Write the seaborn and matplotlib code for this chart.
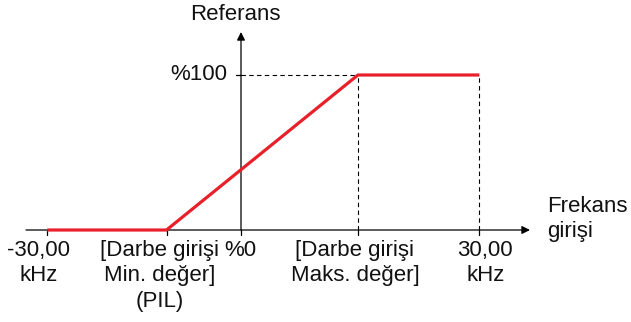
import matplotlib
matplotlib.use("Agg")
import matplotlib.pyplot as plt
import seaborn as sns
import pandas as pd

sns.set_theme(style="white")
plt.rcParams["font.family"] = ["Liberation Sans", "DejaVu Sans"]

# Reference curve (frequency input -> reference %)
curve_x = [-26.0, -10.0, 15.7, 32.0]
curve_y = [0, 0, 100, 100]

tick_x = [-26.0, -10.0, 0.0, 15.7, 32.0]
tick_labels = ["-30,00\nkHz", "[Darbe girişi\nMin. değer]\n(PIL)", "%0",
               "[Darbe girişi\nMaks. değer]", "30,00\nkHz"]
y_label_100 = "%100"
y_title = "Referans"
x_title = "Frekans\ngirişi"

W, H = 631, 322
fig = plt.figure(figsize=(W / 100, H / 100), dpi=100)
ax = fig.add_axes([0, 0, 1, 1])
kx, ky = 7.45, 1.55          # px per data unit
ox, oy = 241, 230            # origin in pixels
ax.set_xlim(-ox / kx, (W - ox) / kx)
ax.set_ylim(-(H - oy) / ky, oy / ky)
ax.axis("off")

df = pd.DataFrame({"x": curve_x, "y": curve_y})
sns.lineplot(data=df, x="x", y="y", ax=ax, color="#e8202a", lw=2.3,
             solid_capstyle="butt", zorder=5, legend=False)

# axes with arrows
ax.annotate("", xy=(530 / kx - ox / kx, 0), xytext=(26 / kx - ox / kx, 0),
            arrowprops=dict(arrowstyle="-|>", color="black", lw=0.9,
                            mutation_scale=12, shrinkA=0, shrinkB=0))
ax.annotate("", xy=(0, (oy - 32) / ky), xytext=(0, 0),
            arrowprops=dict(arrowstyle="-|>", color="black", lw=0.9,
                            mutation_scale=12, shrinkA=0, shrinkB=0))

# ticks
tick_len = 5 / ky
for x in tick_x:
    ax.plot([x, x], [0, -tick_len], color="black", lw=0.9)
ax.plot([-5 / kx, 0], [100, 100], color="black", lw=0.9)

# dashed guides
dash = dict(color="black", lw=0.8, ls=(0, (4, 3)))
ax.plot([0, curve_x[2]], [100, 100], **dash)
ax.plot([curve_x[2], curve_x[2]], [0, 100], **dash)
ax.plot([curve_x[3], curve_x[3]], [0, 100], **dash)

fs = 16
txt = "#111111"
label_shift_px = [-9, -7, -1, -3, 6]   # nudge labels clear of each other
for x, lab, dx in zip(tick_x, tick_labels, label_shift_px):
    ax.text(x + dx / kx, -10 / ky, lab, ha="center", va="top",
            multialignment="center", fontsize=fs, linespacing=1.27, color=txt)
ax.text(-14 / kx, 100, y_label_100, ha="right", va="center", fontsize=fs,
        color=txt)
ax.text(-6 / kx, (oy - 15) / ky, y_title, ha="center", va="center",
        fontsize=fs, color=txt)
ax.text((547 - ox) / kx, (oy - 219) / ky, x_title, ha="left", va="center",
        fontsize=fs, linespacing=1.27, color=txt)

fig.savefig("out.png", dpi=100)
